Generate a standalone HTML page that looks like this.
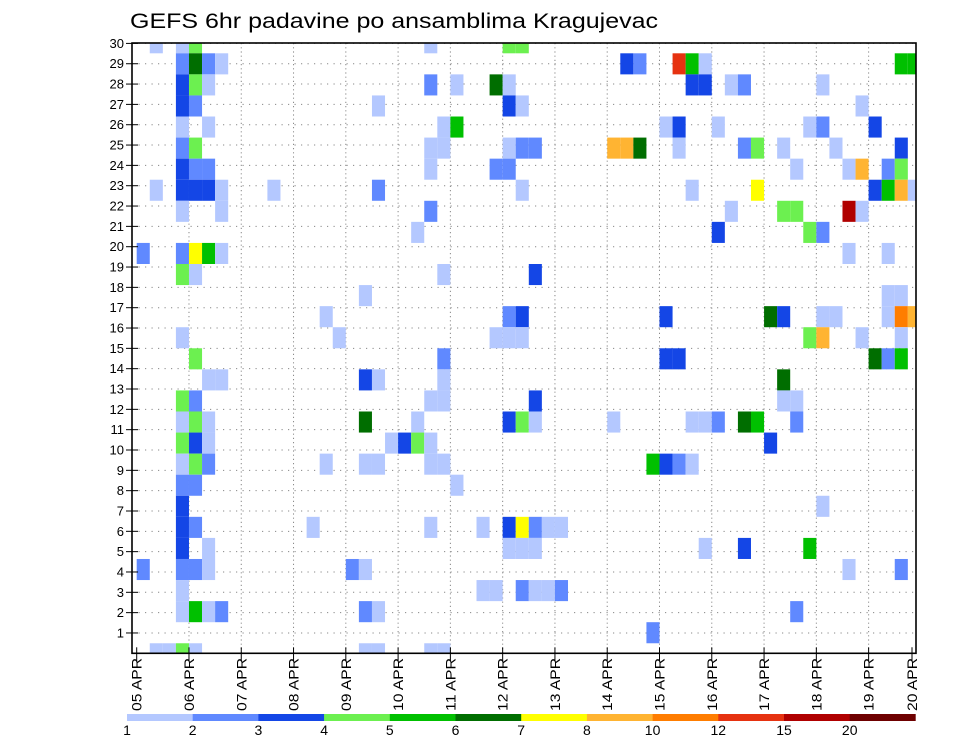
<!DOCTYPE html>
<html><head><meta charset="utf-8"><style>
html,body{margin:0;padding:0;background:#fff;}
svg{display:block;font-family:"Liberation Sans",sans-serif;}
</style></head><body>
<svg id="chart" width="960" height="742" viewBox="0 0 960 742">
<text x="130" y="28" font-size="21" textLength="528" lengthAdjust="spacingAndGlyphs" fill="#000">GEFS 6hr padavine po ansamblima Kragujevac</text>
<g id="grid"></g>
<g id="cells"></g>
<g id="axes"></g>
<g id="legend"></g>
</svg>
<script>
// category per level: 1=1-2,2=2-3,3=3-4,4=4-5,5=5-6,6=6-7,7=7-8,8=8-10,9=10-12,10=12-15,11=15-20,12=20+
const legendLabels = ["1","2","3","4","5","6","7","8","10","12","15","20"];
const dayLabels = ["05 APR","06 APR","07 APR","08 APR","09 APR","10 APR","11 APR","12 APR","13 APR","14 APR","15 APR","16 APR","17 APR","18 APR","19 APR","20 APR"];
const memberLabels = [1,2,3,4,5,6,7,8,9,10,11,12,13,14,15,16,17,18,19,20,21,22,23,24,25,26,27,28,29,30];
// cells: time step (6h index from 05 APR 00Z), ensemble row, precipitation category
const cellT = [1,3,4, 3,4,5,6, 3,4,5, 3,4,18, 3,5, 3,4, 3,4,5, 1,3,4,5,6,10,18, 3,6, 0,3,4,5,6, 3,4, 17, 14, 3,15,
 4, 5,6,17,18, 3,4, 3,4,5,17, 3,4,5,19, 3,4,5,14,17,18, 3,4, 3, 3,4,13, 3,5, 0,3,4,5,16,17, 3, 3,4,5,6,17,18, 1,2,3,4,17,18,
 22,28,29, 37,38, 22,24,27,28, 28,29, 23,24, 22,23,28,29,30,36,37,38, 22,27,28, 29, 22, 21, 23,30, 28,29, 27,28,29,
 23, 23, 22,23,30, 21,28,29,30,36, 20,21,22, 22,23,39, 24, 22,26,28,29,30,31,32, 28,29,30, 26,27,29,30,31,32, 39, 22,23,
 41,42,43,58,59, 42,43,45,46,52, 55, 40,41,44,51,52,56, 41,46,47,49,53,58, 50,54,55,57,58, 42,47,56,57,58,59, 45,49,50,54,55, 44,51,52, 54,57, 57,58, 40,48,49,52,53,57,58,59, 51,52,55,58,
 40,41,56,57,58, 49, 49,50, 42,43,44,46,47,50, 48, 40,41,42, 52, 43,46,51, 54,58, 50];
const cellRow = [30,30,30, 29,29,29,29, 28,28,28, 27,27,27, 26,26, 25,25, 24,24,24, 23,23,23,23,23,23,23, 22,22, 20,20,20,20,20, 19,19, 18, 17, 16,16,
 15, 14,14,14,14, 13,13, 12,12,12,12, 11,11,11,11, 10,10,10,10,10,10, 9,9, 8, 7,7,7, 6,6, 5,5,5,5,5,5, 4, 3,3,3,3,3,3, 1,1,1,1,1,1,
 30,30,30, 29,29, 28,28,28,28, 27,27, 26,26, 25,25,25,25,25,25,25,25, 24,24,24, 23, 22, 21, 19,19, 17,17, 16,16,16,
 15, 14, 13,13,13, 12,12,12,12,12, 11,11,11, 10,10,10, 9, 7,7,7,7,7,7,7, 6,6,6, 4,4,4,4,4,4, 2, 1,1,
 29,29,29,29,29, 28,28,28,28,28, 27, 26,26,26,26,26,26, 25,25,25,25,25,25, 24,24,24,24,24, 23,23,23,23,23,23, 22,22,22,22,22, 21,21,21, 20,20, 18,18, 17,17,17,17,17,17,17,17, 16,16,16,16,
 15,15,15,15,15, 14, 13,13, 12,12,12,12,12,12, 11, 10,10,10, 8, 6,6,6, 5,5, 3];
const cellCat = [1,1,4, 2,6,2,1, 3,4,1, 3,2,1, 1,1, 2,4, 3,2,2, 1,3,3,3,1,1,2, 1,1, 2,2,7,5,1, 4,1, 1, 1, 1,1,
 4, 1,1,3,1, 4,2, 1,4,1,6, 4,3,1,1, 1,4,2,1,1,1, 2,2, 3, 3,2,1, 3,1, 2,2,2,1,2,1, 1, 1,5,1,2,2,1, 1,1,4,1,1,1,
 1,4,4, 3,2, 2,1,6,1, 3,1, 1,5, 1,1,1,2,2,8,8,6, 1,2,2, 1, 2, 1, 1,3, 2,3, 1,1,1,
 2, 1, 1,1,3, 1,3,4,1,1, 3,4,1, 1,1,5, 1, 1,1,3,7,2,1,1, 1,1,1, 1,1,2,1,1,2, 2, 1,1,
 10,5,1,5,5, 3,3,1,2,1, 1, 1,3,1,1,2,3, 1,2,4,1,1,3, 1,1,8,2,4, 1,7,3,5,8,1, 1,4,4,11,1, 3,4,2, 1,1, 1,1, 3,6,3,1,1,1,9,8, 4,8,1,1,
 3,3,6,2,5, 6, 1,1, 1,1,2,6,5,2, 3, 3,2,1, 1, 1,3,5, 1,2, 2];
const palette = ["#ffffff","#b4c8ff","#6089ff","#1446e6","#6cf050","#00c000","#006e00","#ffff00","#ffb432","#ff7d00","#e63210","#b00000","#6e0000"];

const NS="http://www.w3.org/2000/svg";
const L=132,R=916,T=43,B=653.3;
const x0=136.7, stepW=13.07;
function xCell(t){return x0+stepW*t;}
function yCellTop(r){return 53.3+21.07*(29-r);}
function yTick(m){return B-20.33*m;}
function xDay(d){return Math.min(x0+52.28*d,912);}
function mk(tag,attrs,parent){const e=document.createElementNS(NS,tag);for(const k in attrs)e.setAttribute(k,attrs[k]);parent.appendChild(e);return e;}

const grid=document.getElementById('grid');
memberLabels.forEach(m=>{
  const l=mk('line',{x1:L,x2:R,y1:yTick(m),y2:yTick(m),stroke:'#888','stroke-width':1,'stroke-dasharray':'1.2,5.3'},grid);
  
  
});
dayLabels.forEach((d,i)=>{
  if(i===0||i===15)return;
  const l=mk('line',{x1:xDay(i),x2:xDay(i),y1:T,y2:B,stroke:'#888','stroke-width':1,'stroke-dasharray':'1.2,3'},grid);
  
  
});

const cells=document.getElementById('cells');
for(let i=0;i<cellT.length;i++){
  let xa=xCell(cellT[i]), xb=Math.min(xa+stepW,R);
  let ya=Math.max(yCellTop(cellRow[i]),T), yb=Math.min(yCellTop(cellRow[i])+21.07,B);
  const r=mk('rect',{x:xa,y:ya,width:xb-xa,height:yb-ya,fill:palette[cellCat[i]]},cells);
  
  
}

const axes=document.getElementById('axes');
const frame=mk('rect',{x:L,y:T,width:R-L,height:B-T,fill:'none',stroke:'#000','stroke-width':1.6},axes);


memberLabels.forEach(m=>{
  const y=yTick(m);
  const tk=mk('line',{x1:126,x2:138,y1:y,y2:y,stroke:'#000','stroke-width':1},axes);
  
  
  const tx=mk('text',{x:124,y:y+4.5,'font-size':13,'text-anchor':'end',fill:'#000'},axes);
  tx.textContent=m;
  
  
});
dayLabels.forEach((d,i)=>{
  const x=xDay(i);
  const tk=mk('line',{x1:x,x2:x,y1:B-6,y2:B+8,stroke:'#000','stroke-width':1},axes);
  
  
  const tx=mk('text',{x:0,y:0,'font-size':14,'text-anchor':'end',textLength:53,lengthAdjust:'spacingAndGlyphs',fill:'#000',transform:`translate(${x+5},${658}) rotate(-90)`},axes);
  tx.textContent=d;
  
  
});

const leg=document.getElementById('legend');
const lx0=127, lw=65.7;
legendLabels.forEach((lab,i)=>{
  const r=mk('rect',{x:lx0+lw*i,y:714,width:lw+0.3,height:7,fill:palette[i+1]},leg);
  
  
  const t=mk('text',{x:lx0+lw*i,y:735,'font-size':14,'text-anchor':'middle',fill:'#000'},leg);
  t.textContent=lab;
  
  
});
</script>
</body></html>
